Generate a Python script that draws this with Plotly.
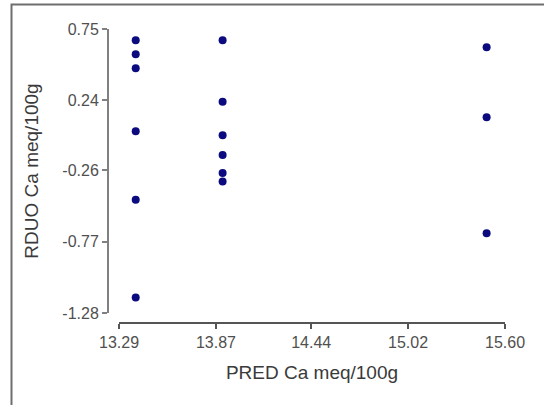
import plotly.graph_objects as go

# Predicted values (x) and residuals (y)
pred = [13.39, 13.39, 13.39, 13.39, 13.39, 13.39,
        13.91, 13.91, 13.91, 13.91, 13.91, 13.91,
        15.49, 15.49, 15.49]
resid = [0.67, 0.57, 0.47, 0.02, -0.47, -1.17,
         0.67, 0.23, -0.01, -0.15, -0.28, -0.34,
         0.62, 0.12, -0.71]

x_ticks = [13.29, 13.87, 14.44, 15.02, 15.60]
x_tick_text = ["13.29", "13.87", "14.44", "15.02", "15.60"]
y_ticks = [0.75, 0.24, -0.26, -0.77, -1.28]
y_tick_text = ["0.75", "0.24", "-0.26", "-0.77", "-1.28"]

W, H = 544, 405
ML, MR, MT, MB = 108, 39, 29, 82
PW = W - ML - MR
PH = H - MT - MB


def px(x):
    return (x - ML) / PW


def py(y):
    return (H - MB - y) / PH


fig = go.Figure()
fig.add_trace(go.Scatter(
    x=pred, y=resid, mode="markers",
    marker=dict(size=8, color="#0b0b7f", line=dict(width=0)),
    showlegend=False, hoverinfo="x+y",
))

tick_font = dict(family="Liberation Sans, Arial, sans-serif", color="#505050", size=16)
title_font = dict(family="Liberation Sans, Arial, sans-serif", color="#3a3a3a", size=19)

fig.update_layout(
    width=W, height=H,
    margin=dict(l=ML, r=MR, t=MT, b=MB, pad=0),
    paper_bgcolor="white", plot_bgcolor="white",
    font=title_font,
    xaxis=dict(
        domain=[px(119), 1],
        range=[13.29, 15.60],
        tickvals=x_ticks, ticktext=x_tick_text,
        tickfont=tick_font,
        ticks="outside", ticklen=5, tickwidth=2, tickcolor="#555555",
        showline=True, linecolor="#555555", linewidth=2,
        showgrid=False, zeroline=False,
        anchor="free", position=0,
        title=dict(text="PRED Ca meq/100g", font=title_font, standoff=14),
    ),
    yaxis=dict(
        domain=[py(313), 1],
        range=[-1.28, 0.75],
        tickvals=y_ticks, ticktext=y_tick_text,
        tickfont=tick_font,
        ticks="outside", ticklen=5, tickwidth=2, tickcolor="#808080",
        showline=True, linecolor="#808080", linewidth=2,
        showgrid=False, zeroline=False,
        anchor="free", position=0,
        title=dict(text="RDUO Ca meq/100g", font=title_font, standoff=18),
    ),
    shapes=[dict(
        type="rect", xref="paper", yref="paper",
        x0=px(11.5), x1=px(548), y0=py(412), y1=py(4.5),
        line=dict(color="#6e6e6e", width=2), fillcolor="rgba(0,0,0,0)",
        layer="below",
    )],
)

fig.write_html("out.html")
